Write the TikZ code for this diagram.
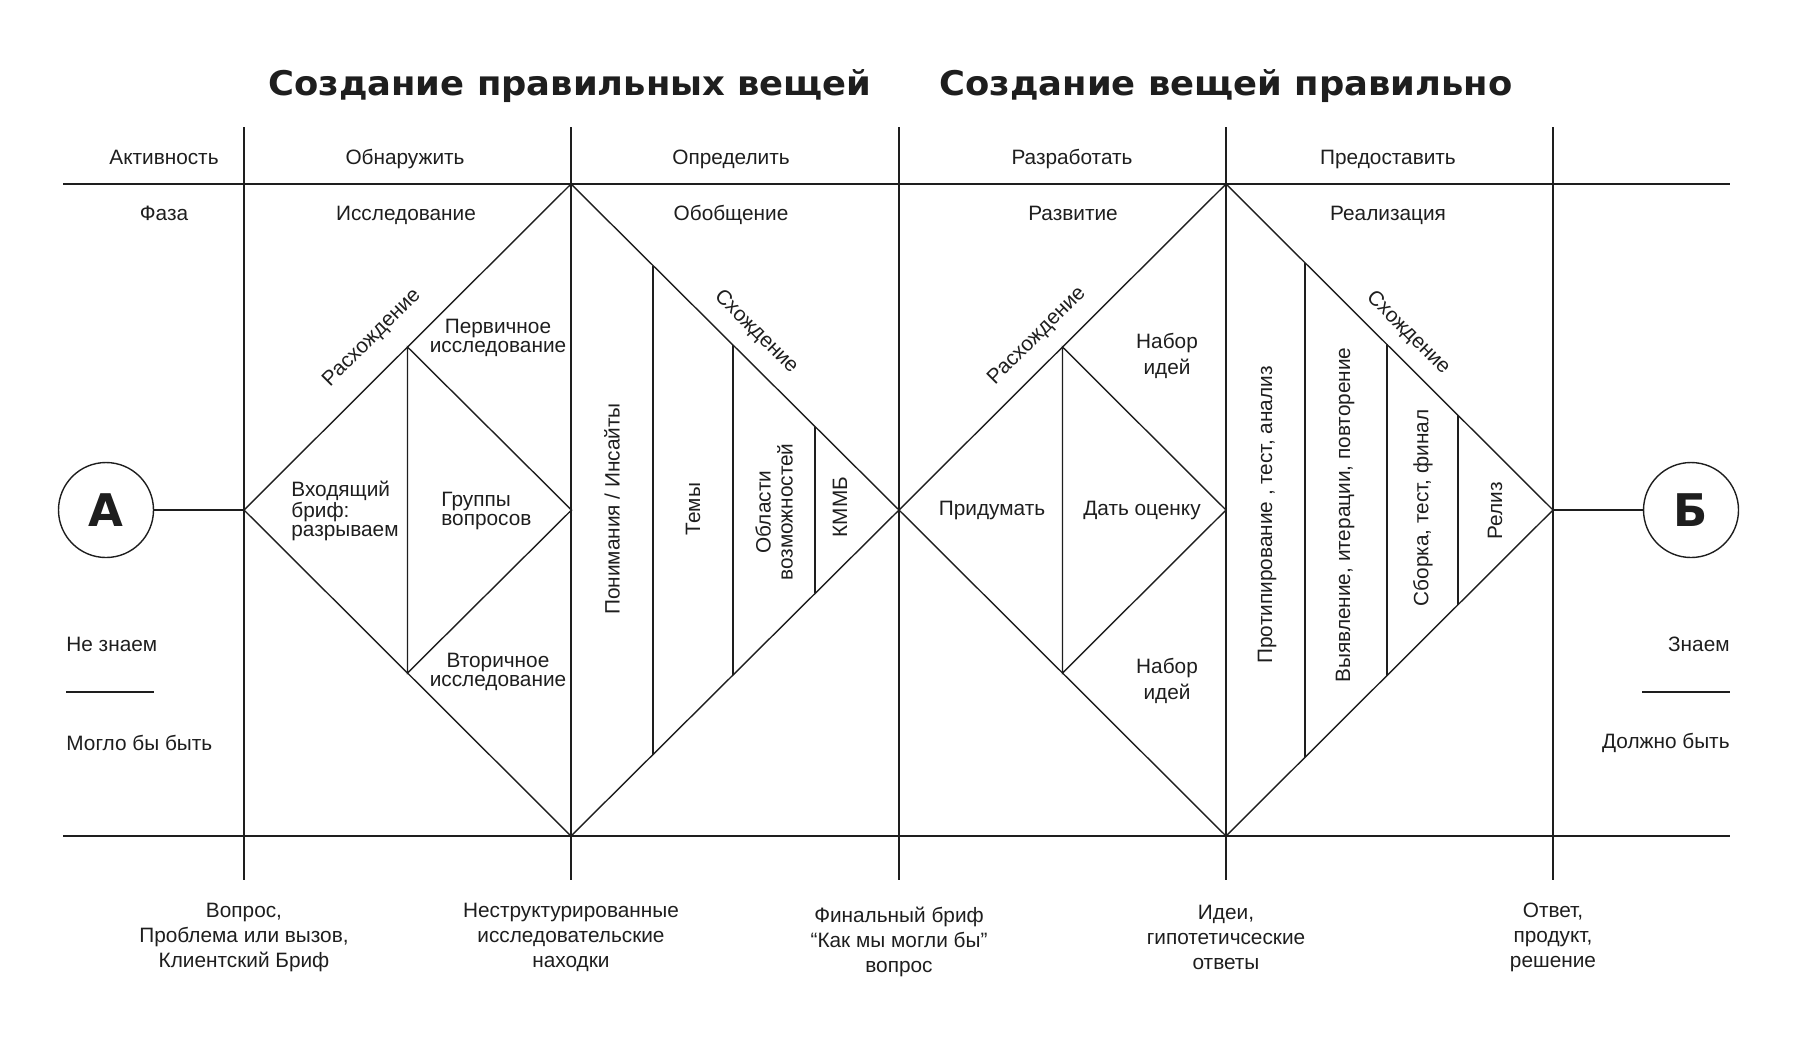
\documentclass[tikz,border=0pt]{standalone}
\usepackage{fontspec}
\setmainfont{Liberation Sans}
\newfontfamily\headfont{DejaVu Sans}
\usepackage{tikz}
\usetikzlibrary{calc}
\definecolor{ink}{HTML}{1E1E1E}

\begin{document}
\begin{tikzpicture}[x=0.5pt,y=-0.5pt,
      every node/.style={inner sep=0pt,text=ink,font=\fontsize{10.4}{9.5}\selectfont},
      diag/.style={draw=ink,line width=0.7pt},
      hrule/.style={draw=ink,line width=1pt},
      headline/.style={font=\headfont\bfseries\fontsize{17}{20}\selectfont},
      block/.style={align=center},
      rowtext/.style={anchor=base},
      tall/.style={align=center,font=\fontsize{10.4}{12.5}\selectfont},
      turned/.style={rotate=90,align=center,font=\fontsize{10.4}{11}\selectfont},
      every circle node/.style={draw=ink,line width=0.7pt,minimum size=47.5pt,
        font=\headfont\bfseries\fontsize{22.5}{24}\selectfont}]

      \useasboundingbox (0,0) rectangle (1797,1040);

      \node[headline] (ttl1) at (570,86) {\scalebox{1.04}[1]{Создание правильных вещей}};
      \node[headline] (ttl2) at (1226,86) {\scalebox{1.04}[1]{Создание вещей правильно}};

      \foreach \x [count=\i] in {244,571,899,1226,1553} {
        \coordinate (g\i top) at (\x,127);
        \coordinate (g\i bot) at (\x,880);
        \draw[diag] (g\i top) -- (g\i bot);
      }
      \coordinate (hl1) at (63,184);  \coordinate (hr1) at (1730,184);
      \coordinate (hl2) at (63,836);  \coordinate (hr2) at (1730,836);
      \draw[hrule] (hl1) -- (hr1);
      \draw[hrule] (hl2) -- (hr2);

      \coordinate (v0) at (244,510);
      \coordinate (t1) at (571,184);
      \coordinate (m1) at (899,510);
      \coordinate (b1) at (571,836);
      \coordinate (t2) at (1226,184);
      \coordinate (v2) at (1553,510);
      \coordinate (b2) at (1226,836);
      \draw[diag] (v0) -- (t1) -- (m1) -- (b1) -- cycle;
      \draw[diag] (m1) -- (t2) -- (v2) -- (b2) -- cycle;

      \coordinate (i1t) at ($(v0)!0.5!(t1)$);
      \coordinate (i1b) at ($(v0)!0.5!(b1)$);
      \coordinate (c1) at ($(v0)!0.5!(m1)$);
      \draw[diag] (i1t) -- (c1) -- (i1b) -- cycle;
      \coordinate (i2t) at ($(m1)!0.5!(t2)$);
      \coordinate (i2b) at ($(m1)!0.5!(b2)$);
      \coordinate (c2) at ($(m1)!0.5!(v2)$);
      \draw[diag] (i2t) -- (c2) -- (i2b) -- cycle;

      \foreach \f in {0.25,0.494,0.744}
        \draw[diag] ($(t1)!\f!(m1)$) -- ($(b1)!\f!(m1)$);
      \foreach \f in {0.242,0.492,0.71}
        \draw[diag] ($(t2)!\f!(v2)$) -- ($(b2)!\f!(v2)$);

      \node[circle] (A) at (106,510) {А};
      \node[circle] (B) at (1691,510) {Б};
      \draw[diag] (A) -- (v0);
      \draw[diag] (v2) -- (B);

      \node[rowtext] (act) at (164,164) {Активность};
      \node[rowtext] (disc) at (405,164) {Обнаружить};
      \node[rowtext] (defn) at (731,164) {Определить};
      \node[rowtext] (devl) at (1072,164) {Разработать};
      \node[rowtext] (delv) at (1388,164) {Предоставить};
      \node[rowtext] (phase) at (164,220) {Фаза};
      \node[rowtext] (res) at (406,220) {Исследование};
      \node[rowtext] (syn) at (731,220) {Обобщение};
      \node[rowtext] (dev) at (1073,220) {Развитие};
      \node[rowtext] (impl) at (1388,220) {Реализация};

      \node[rotate=45] (div1) at (372,338) {Расхождение};
      \node[rotate=-45] (conv1) at (756,332) {Схождение};
      \node[rotate=45] (div2) at (1037,336) {Расхождение};
      \node[rotate=-45] (conv2) at (1408,333) {Схождение};

      \node[block] (prim) at (498,338) {Первичное\\исследование};
      \node[align=left,anchor=west] (brief) at (291,511) {Входящий\\бриф:\\разрываем};
      \node[align=left,anchor=west] (quest) at (441,511) {Группы\\вопросов};
      \node[block] (sec) at (498,672) {Вторичное\\исследование};

      \node[turned] (ins) at (612,509) {Понимания / Инсайты};
      \node[turned] (thm) at (693,509) {Темы};
      \node[turned] (opp) at (774,512) {Области\\возможностей};
      \node[turned] (hmw) at (840,507) {КММБ};

      \node[block,font=\fontsize{10.4}{13}\selectfont] (ideas1) at (1167,356) {Набор\\идей};
      \node[block,font=\fontsize{10.4}{13}\selectfont] (ideas2) at (1167,681) {Набор\\идей};
      \node (ideate) at (992,510) {Придумать};
      \node (eval) at (1142,510) {Дать оценку};

      \node[turned] (proto) at (1267,515) {Протипирование , тест, анализ};
      \node[turned] (iter) at (1345,515) {Выявление, итерации, повторение};
      \node[turned] (build) at (1423,508) {Сборка, тест, финал};
      \node[turned] (rel) at (1495,511) {Релиз};

      \node[anchor=west] (dk) at (66,644) {Не знаем};
      \coordinate (dkl) at (66,692); \coordinate (dkr) at (154,692);
      \draw[diag] (dkl) -- (dkr);
      \node[anchor=west] (could) at (66,743) {Могло бы быть};
      \node[anchor=east] (kn) at (1730,644) {Знаем};
      \coordinate (knl) at (1642,692); \coordinate (knr) at (1730,692);
      \draw[diag] (knl) -- (knr);
      \node[anchor=east] (should) at (1730,743) {Должно быть};

      \node[tall] (out0) at (244,937) {Вопрос,\\Проблема или вызов,\\Клиентский Бриф};
      \node[tall] (out1) at (571,937) {Неструктурированные\\исследовательские\\находки};
      \node[tall] (out2) at (899,942) {Финальный бриф\\“Как мы могли бы”\\вопрос};
      \node[tall] (out3) at (1226,937) {Идеи,\\гипотетичсеские\\ответы};
      \node[tall] (out4) at (1553,937) {Ответ,\\продукт,\\решение};
    \end{tikzpicture}
\end{document}
